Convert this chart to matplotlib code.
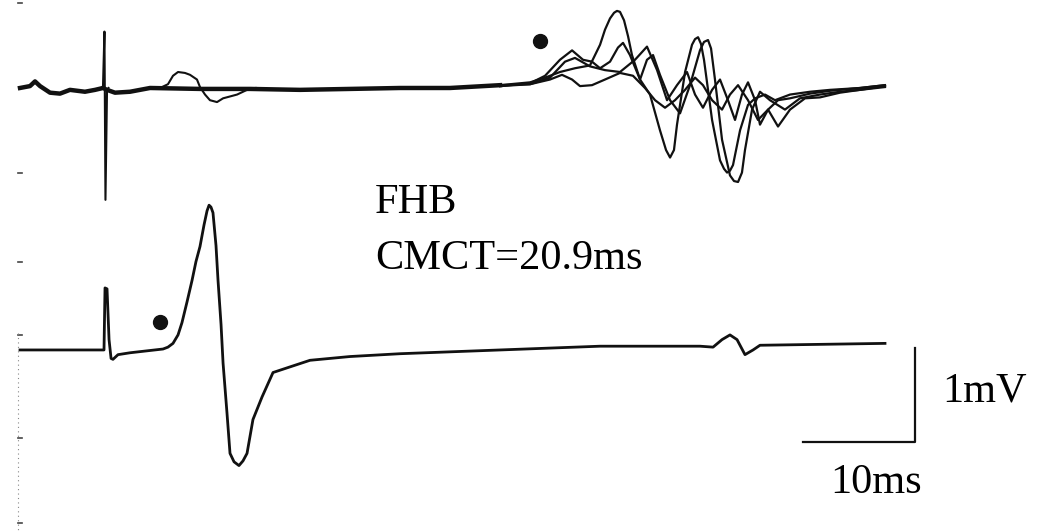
import numpy as np
import matplotlib
matplotlib.use("Agg")
import matplotlib.pyplot as plt

# time in ms, amplitude in mV (each trace relative to its own baseline)
TOP_OFFSET = 2.787

# upper channel: overlapped sweeps before the response
base_t = [0, 0.89, 1.34, 1.79, 2.68, 3.57, 4.46, 5.80, 6.70, 7.41, 7.77,
          8.48, 9.82, 11.61, 16.07, 20.54, 25.0, 29.46, 33.93, 38.39, 42.86]
base_v = [0, 0.02, 0.07, 0.02, -0.05, -0.06, -0.02, -0.04, -0.02, 0, -0.02,
          -0.05, -0.04, 0, -0.01, -0.01, -0.02, -0.01, 0, 0, 0.03]

# stimulus artifact
stim_t = [7.30, 7.41, 7.54, 7.63, 7.77, 7.90]
stim_v = [0, 0.02, 0.60, -1.19, -0.02, 0]

# small early deflection on one sweep
bump_t = [12.5, 13.21, 13.66, 14.11, 14.73, 15.18, 15.80, 16.07, 16.52, 16.96, 17.59,
          18.13, 19.38, 20.27, 21.03]
bump_v = [0, 0.04, 0.13, 0.17, 0.16, 0.14, 0.09, 0.01, -0.07, -0.13, -0.15,
          -0.11, -0.07, -0.02, 0]

# late responses, four sweeps
sweep_a_t = [42.86, 45.54, 46.88, 48.21, 49.55, 50.89, 51.79, 52.23, 52.68, 53.04, 53.30,
             53.57, 53.93, 54.29, 54.64, 55.36, 56.25, 57.14, 57.68, 58.04, 58.39, 58.66,
             59.38, 60.0, 60.27, 60.54, 60.80, 61.07, 61.79, 62.50, 62.86, 63.13, 63.39,
             63.66, 64.29, 65.0, 65.63, 66.52, 67.41, 68.75, 70.54, 72.32, 75.0, 77.23]
sweep_a_v = [0.03, 0.06, 0.11, 0.17, 0.21, 0.24, 0.46, 0.62, 0.74, 0.80, 0.82,
             0.81, 0.72, 0.55, 0.35, 0.09, -0.07, -0.45, -0.66, -0.74, -0.66, -0.39,
             0.17, 0.46, 0.52, 0.54, 0.47, 0.30, -0.34, -0.77, -0.86, -0.90, -0.88,
             -0.82, -0.45, -0.18, -0.11, -0.07, -0.13, -0.07, -0.04, -0.02, 0, 0.03]

sweep_b_t = [42.86, 45.54, 46.88, 48.21, 49.29, 50.27, 51.07, 51.79, 52.68, 53.39, 53.84,
             54.46, 55.36, 55.98, 56.52, 57.14, 58.04, 58.93, 59.82, 60.71, 61.07, 61.43,
             61.70, 62.05, 62.68, 63.39, 63.75, 64.11, 64.46, 64.73, 65.36, 66.07, 66.96,
             68.30, 69.64, 71.43, 73.21, 75.0, 77.23]
sweep_b_v = [0.02, 0.05, 0.13, 0.30, 0.40, 0.30, 0.28, 0.21, 0.28, 0.43, 0.48,
             0.35, 0.09, 0.30, 0.35, 0.14, -0.13, -0.27, 0.03, 0.40, 0.49, 0.51,
             0.42, 0.09, -0.55, -0.93, -0.99, -1.0, -0.90, -0.66, -0.23, -0.04, -0.13,
             -0.23, -0.11, -0.07, -0.04, -0.02, 0.02]

sweep_c_t = [42.86, 45.54, 47.32, 48.66, 49.55, 50.89, 52.23, 53.57, 54.91, 55.98, 56.88,
             57.77, 58.66, 59.55, 60.27, 60.98, 61.79, 62.50, 63.21, 63.84, 64.46, 65.0,
             65.63, 66.07, 66.79, 67.68, 68.75, 70.54, 72.32, 75.0, 77.23]
sweep_c_v = [0.03, 0.04, 0.11, 0.28, 0.32, 0.23, 0.19, 0.17, 0.30, 0.44, 0.19,
             -0.13, 0.03, 0.17, -0.07, -0.21, -0.02, 0.09, -0.13, -0.34, -0.07, 0.06,
             -0.13, -0.39, -0.23, -0.13, -0.11, -0.06, -0.03, 0, 0.03]

sweep_d_t = [42.86, 45.54, 47.32, 48.39, 49.29, 50.0, 51.07, 52.23, 53.57, 54.73, 55.80,
             56.70, 57.59, 58.48, 59.38, 60.27, 60.98, 61.79, 62.68, 63.39, 64.11, 65.0,
             65.89, 66.79, 67.68, 68.75, 70.09, 71.43, 73.21, 75.0, 77.23]
sweep_d_v = [0.02, 0.04, 0.09, 0.14, 0.09, 0.02, 0.03, 0.09, 0.16, 0.13, 0,
             -0.13, -0.21, -0.13, -0.02, 0.11, 0.03, -0.13, -0.23, -0.07, 0.03, -0.13,
             -0.34, -0.23, -0.41, -0.23, -0.11, -0.10, -0.05, -0.02, 0.01]

# lower channel: peripheral response
low_t = [0, 3.57, 7.50, 7.59, 7.77, 7.95, 8.13, 8.30, 8.75, 9.82, 12.77, 13.21, 13.66,
         14.11, 14.46, 14.91, 15.36, 15.71, 16.07, 16.43, 16.70, 16.88, 17.05, 17.23, 17.50,
         17.68, 17.95, 18.13, 18.48, 18.75, 19.11, 19.55, 19.91, 20.27, 20.80, 21.61,
         22.59, 24.11, 25.89, 29.46, 33.93, 42.86, 51.79, 60.71, 61.88, 62.68, 63.39,
         64.02, 64.73, 65.45, 66.07, 77.23]
low_v = [0, 0, 0, 0.66, 0.65, 0.11, -0.09, -0.10, -0.05, -0.03, 0.01, 0.03, 0.07,
         0.16, 0.29, 0.51, 0.74, 0.94, 1.10, 1.33, 1.48, 1.54, 1.52, 1.46, 1.11,
         0.74, 0.27, -0.14, -0.67, -1.10, -1.19, -1.23, -1.18, -1.10, -0.74, -0.50,
         -0.24, -0.18, -0.11, -0.07, -0.04, 0, 0.04, 0.04, 0.03, 0.11, 0.16,
         0.11, -0.05, 0, 0.05, 0.07]

# onset markers (t, v) for upper and lower channel
onset_top = (46.43, 0.50)
onset_low = (12.5, 0.30)

# calibration bar
bar_ms = 10
bar_mv = 1
bar_corner = (79.91, -0.979)

fig = plt.figure(figsize=(10.4, 5.31), dpi=100)
ax = fig.add_axes([0, 0, 1, 1])
ax.set_xlim(-1.786, 91.07)
ax.set_ylim(-1.926, 3.723)
ax.axis("off")

ink = "#111111"
ax.plot(base_t, np.array(base_v) + TOP_OFFSET, color=ink, lw=3.2, solid_joinstyle="round")
ax.plot(stim_t, np.array(stim_v) + TOP_OFFSET, color=ink, lw=1.5)
ax.plot(bump_t, np.array(bump_v) + TOP_OFFSET, color=ink, lw=1.5)
for t, v in [(sweep_a_t, sweep_a_v), (sweep_b_t, sweep_b_v),
             (sweep_c_t, sweep_c_v), (sweep_d_t, sweep_d_v)]:
    ax.plot(t, np.array(v) + TOP_OFFSET, color=ink, lw=1.6, solid_joinstyle="round")

ax.plot(low_t, low_v, color=ink, lw=2.0, solid_joinstyle="round")

ax.plot(onset_top[0], onset_top[1] + TOP_OFFSET, "o", color=ink, ms=10)
ax.plot(onset_low[0], onset_low[1], "o", color=ink, ms=10)

bx, by = bar_corner
ax.plot([bx - bar_ms, bx, bx], [by, by, by + bar_mv], color=ink, lw=1.6)

serif = "Liberation Serif"
ax.text(82.3, -0.553, "1mV", fontsize=30.5, family=serif, va="baseline", ha="left")
ax.text(72.3, -1.521, "10ms", fontsize=30.5, family=serif, va="baseline", ha="left")
ax.text(31.7, 1.457, "FHB", fontsize=30.5, family=serif, va="baseline", ha="left")
ax.text(31.7, 0.862, "CMCT=20.9ms", fontsize=30.5, family=serif, va="baseline", ha="left")

# faint ruler marks along the left edge
edge_marks = [3.69, 1.88, 0.94, 0.16, -0.94, -1.84]
for m in edge_marks:
    ax.plot([-0.18, 0.18], [m, m], color="#444444", lw=1.2)
ax.plot([-0.18, -0.18], [0.18, -1.926], color="#888888", lw=0.8, ls=(0, (1, 3)))

fig.savefig("out.png", dpi=100)
